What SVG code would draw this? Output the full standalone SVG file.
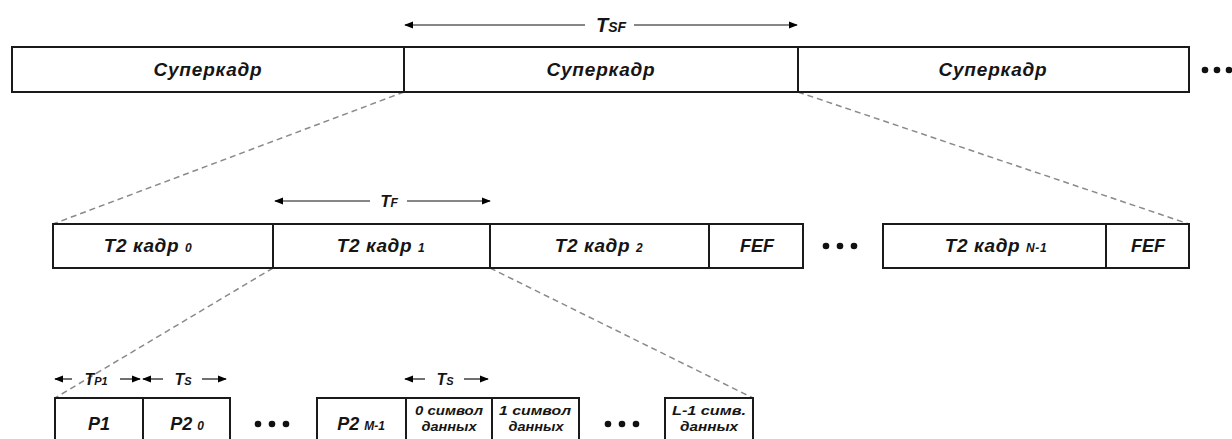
<svg xmlns="http://www.w3.org/2000/svg" width="1232" height="439" viewBox="0 0 1232 439">
<defs>
<marker id="ah" viewBox="0 0 10 10" refX="9" refY="5" markerWidth="9" markerHeight="9" markerUnits="userSpaceOnUse" orient="auto-start-reverse">
<path d="M0,1 L10,5 L0,9 z" fill="#000"/>
</marker>
<style>
.box{fill:#fff;stroke:#1a1a1a;stroke-width:2}
.lbl{font-family:"Liberation Sans",Arial,sans-serif;font-weight:bold;font-style:italic;fill:#151515;text-anchor:middle}
.big{font-size:19px;letter-spacing:0.8px}
.mid{font-size:19px;letter-spacing:0.6px}
.sm{font-size:12px}
.dash{stroke:#8a8a8a;stroke-width:1.5;stroke-dasharray:6 4;fill:none}
.arr{stroke:#111;stroke-width:1.2;fill:none}
.dot{fill:#111}
</style>
</defs>
<rect width="1232" height="439" fill="#fff"/>

<g id="connectors">
<line class="dash" x1="404" y1="92" x2="53" y2="224"/>
<line class="dash" x1="798" y1="92" x2="1189" y2="224"/>
<line class="dash" x1="273" y1="268" x2="55" y2="398"/>
<line class="dash" x1="490" y1="268" x2="753" y2="398"/>
</g>

<g id="dim-TSF">
<line class="arr" x1="585" y1="25" x2="405" y2="25" marker-end="url(#ah)"/>
<line class="arr" x1="634" y1="25" x2="797" y2="25" marker-end="url(#ah)"/>
<text class="lbl" x="611" y="32" font-size="20">T<tspan font-size="14">SF</tspan></text>
</g>

<g id="superframe-row">
<g id="sf1"><rect class="box" x="12" y="47" width="392" height="45"/><text class="lbl big" x="208" y="76">Суперкадр</text></g>
<g id="sf2"><rect class="box" x="404" y="47" width="394" height="45"/><text class="lbl big" x="601" y="76">Суперкадр</text></g>
<g id="sf3"><rect class="box" x="798" y="47" width="391" height="45"/><text class="lbl big" x="993" y="76">Суперкадр</text></g>
<g id="sf-dots"><circle class="dot" cx="1205" cy="70" r="3.3"/><circle class="dot" cx="1217" cy="70" r="3.3"/><circle class="dot" cx="1229" cy="70" r="3.3"/></g>
</g>

<g id="dim-TF">
<line class="arr" x1="370" y1="201" x2="275" y2="201" marker-end="url(#ah)"/>
<line class="arr" x1="407" y1="201" x2="490" y2="201" marker-end="url(#ah)"/>
<text class="lbl" x="389" y="207" font-size="17">T<tspan font-size="12">F</tspan></text>
</g>

<g id="frame-row">
<g id="f0"><rect class="box" x="53" y="224" width="220" height="44"/><text class="lbl mid" x="148" y="252">T2 кадр <tspan class="sm">0</tspan></text></g>
<g id="f1"><rect class="box" x="273" y="224" width="217" height="44"/><text class="lbl mid" x="381" y="252">T2 кадр <tspan class="sm">1</tspan></text></g>
<g id="f2"><rect class="box" x="490" y="224" width="219" height="44"/><text class="lbl mid" x="599" y="252">T2 кадр <tspan class="sm">2</tspan></text></g>
<g id="fef1"><rect class="box" x="709" y="224" width="94" height="44"/><text class="lbl" x="757" y="252" font-size="18">FEF</text></g>
<g id="f-dots"><circle class="dot" cx="826" cy="246" r="3.3"/><circle class="dot" cx="840" cy="246" r="3.3"/><circle class="dot" cx="854" cy="246" r="3.3"/></g>
<g id="fN"><rect class="box" x="883" y="224" width="223" height="44"/><text class="lbl mid" x="996" y="252">T2 кадр <tspan class="sm">N-1</tspan></text></g>
<g id="fef2"><rect class="box" x="1106" y="224" width="83" height="44"/><text class="lbl" x="1148" y="252" font-size="18">FEF</text></g>
</g>

<g id="dim-bottom">
<line class="arr" x1="72" y1="379" x2="55" y2="379" marker-end="url(#ah)"/>
<line class="arr" x1="120" y1="379" x2="140" y2="379" marker-end="url(#ah)"/>
<text class="lbl" x="96" y="385" font-size="16">T<tspan font-size="11">P1</tspan></text>
<line class="arr" x1="163" y1="379" x2="143" y2="379" marker-end="url(#ah)"/>
<line class="arr" x1="202" y1="379" x2="226" y2="379" marker-end="url(#ah)"/>
<text class="lbl" x="183" y="385" font-size="16">T<tspan font-size="11">S</tspan></text>
<line class="arr" x1="425" y1="379" x2="405" y2="379" marker-end="url(#ah)"/>
<line class="arr" x1="464" y1="379" x2="488" y2="379" marker-end="url(#ah)"/>
<text class="lbl" x="445" y="385" font-size="16">T<tspan font-size="11">S</tspan></text>
</g>

<g id="symbol-row">
<g id="p1"><rect class="box" x="55" y="398" width="88" height="60"/><text class="lbl" x="99" y="430" font-size="18">P1</text></g>
<g id="p20"><rect class="box" x="143" y="398" width="87" height="60"/><text class="lbl" x="187" y="430" font-size="18">P2 <tspan font-size="12">0</tspan></text></g>
<g id="s-dots1"><circle class="dot" cx="258" cy="424" r="3.3"/><circle class="dot" cx="272" cy="424" r="3.3"/><circle class="dot" cx="286" cy="424" r="3.3"/></g>
<g id="p2m"><rect class="box" x="317" y="398" width="89" height="60"/><text class="lbl" x="361" y="430" font-size="18">P2 <tspan font-size="12">M-1</tspan></text></g>
<g id="d0"><rect class="box" x="406" y="398" width="86" height="60"/><text class="lbl" x="449" y="415" font-size="12" textLength="68" lengthAdjust="spacingAndGlyphs">0 символ</text><text class="lbl" x="449" y="431" font-size="12" textLength="55" lengthAdjust="spacingAndGlyphs">данных</text></g>
<g id="d1"><rect class="box" x="492" y="398" width="87" height="60"/><text class="lbl" x="535" y="415" font-size="12" textLength="72" lengthAdjust="spacingAndGlyphs">1 символ</text><text class="lbl" x="536" y="431" font-size="12" textLength="55" lengthAdjust="spacingAndGlyphs">данных</text></g>
<g id="s-dots2"><circle class="dot" cx="608" cy="424" r="3.3"/><circle class="dot" cx="622" cy="424" r="3.3"/><circle class="dot" cx="636" cy="424" r="3.3"/></g>
<g id="dL"><rect class="box" x="665" y="398" width="88" height="60"/><text class="lbl" x="709" y="415" font-size="12" textLength="74" lengthAdjust="spacingAndGlyphs">L-1 симв.</text><text class="lbl" x="709" y="431" font-size="12" textLength="58" lengthAdjust="spacingAndGlyphs">данных</text></g>
</g>
</svg>
